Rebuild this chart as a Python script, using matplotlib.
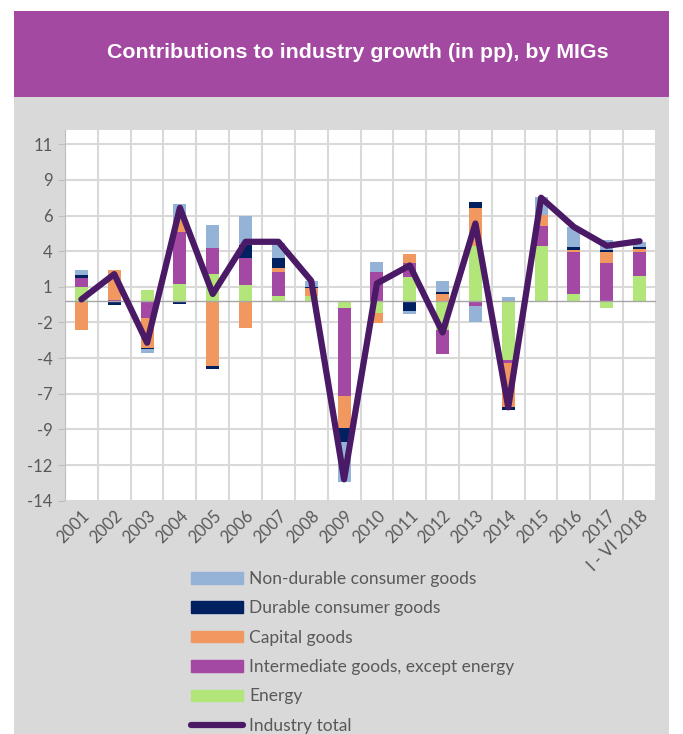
import numpy as np
from matplotlib import pyplot as plt
from matplotlib.patches import Rectangle, Patch
from matplotlib.lines import Line2D

# Contributions to industry growth (pp)
years = ['2001', '2002', '2003', '2004', '2005', '2006', '2007', '2008', '2009',
         '2010', '2011', '2012', '2013', '2014', '2015', '2016', '2017', 'I - VI 2018']
energy = [0.96, -0.08, 0.77, 1.17, 1.89, 1.10, 0.37, 0.37, -0.47,
          -0.82, 1.71, -2.03, 3.88, -4.14, 3.88, 0.51, -0.47, 1.75]
intermediate = [0.68, 0.05, -1.21, 3.69, 1.85, 1.94, 1.68, 0.0, -6.19,
                2.03, 0.98, -1.66, -0.33, -0.19, 1.38, 2.90, 2.69, 1.71]
capital = [-2.03, 2.10, -2.10, 0.82, -4.53, -1.87, 0.28, 0.56, -2.27,
           -0.70, 0.61, 0.49, 2.62, -3.08, 0.77, 0.19, 0.72, 0.21]
durable = [0.16, -0.17, -0.07, -0.20, -0.23, 0.89, 0.70, 0.05, -0.98,
           0.0, -0.68, 0.12, 0.42, -0.23, 0.0, 0.16, 0.16, 0.12]
nondurable = [0.35, -0.05, -0.28, 1.10, 1.59, 2.06, 1.05, 0.45, -2.76,
              0.68, -0.23, 0.79, -1.12, 0.26, 1.29, 1.45, 0.70, 0.33]
total = [0.12, 1.89, -2.92, 6.54, 0.50, 4.16, 4.16, 1.42, -12.5,
         1.24, 2.50, -2.20, 5.44, -7.45, 7.25, 5.20, 3.88, 4.20]

yticks = [-14, -11.5, -9, -6.5, -4, -1.5, 1, 3.5, 6, 8.5, 11]
ytick_labels = ['-14', '-12', '-9', '-7', '-4', '-2', '1', '4', '6', '9', '11']

series = [energy, intermediate, capital, durable, nondurable]
labels = ['Energy', 'Intermediate goods, except energy', 'Capital goods',
          'Durable consumer goods', 'Non-durable consumer goods']
colors = ['#b3e67a', '#a349a4', '#f09860', '#002060', '#95b3d7']
line_color = '#4a1a66'
txt_color = '#595959'

fig = plt.figure(figsize=(6.83, 7.34), dpi=100)
W, H = 683., 734.

# background panels
fig.patches.append(Rectangle((14/W, 0), (669-14)/W, 1-97/H, transform=fig.transFigure,
                             facecolor='#d9d9d9', edgecolor='none', zorder=-2))
fig.patches.append(Rectangle((14/W, 1-97/H), (669-14)/W, (97-11)/H, transform=fig.transFigure,
                             facecolor='#a349a2', edgecolor='none', zorder=-2))
fig.text(358/W, 1-53/H, 'Contributions to industry growth (in pp), by MIGs',
         ha='center', va='center', color='white', fontsize=15.4, fontweight='bold',
         family='Liberation Sans')

ax = fig.add_axes([65/W, 1-500.7/H, 591/W, 370.7/H])
ax.set_facecolor('white')

x = np.arange(len(years))
pos_bottom = np.zeros(len(years))
neg_bottom = np.zeros(len(years))
for vals, lab, col in zip(series, labels, colors):
    v = np.array(vals)
    bottom = np.where(v >= 0, pos_bottom, neg_bottom)
    ax.bar(x, v, 0.4, bottom=bottom, color=col, label=lab, zorder=3)
    pos_bottom += np.where(v >= 0, v, 0)
    neg_bottom += np.where(v < 0, v, 0)

ax.plot(x, total, color=line_color, lw=4.5, solid_joinstyle='round',
        solid_capstyle='round', zorder=5, label='Industry total')
ax.axhline(0, color='#a6a6a6', lw=1, zorder=4)

ax.set_xlim(-0.5, len(years) - 0.5)
ax.set_ylim(-14, 12)
ax.set_yticks(yticks)
ax.set_yticklabels(ytick_labels)
ax.set_xticks(x)
ax.set_xticklabels(years, rotation=45, ha='right', va='top', rotation_mode='anchor')
ax.set_xticks(np.arange(len(years) + 1) - 0.5, minor=True)
ax.grid(True, which='minor', axis='x', color='#d9d9d9', lw=1.5, zorder=0)
ax.grid(True, which='major', axis='y', color='#d9d9d9', lw=1.5, zorder=0)
ax.tick_params(axis='x', which='both', length=0, pad=5)
ax.tick_params(axis='y', length=5, color='#bfbfbf', pad=4)
for lab in ax.get_xticklabels() + ax.get_yticklabels():
    lab.set_color(txt_color)
    lab.set_fontsize(12)
    lab.set_family('Lato')
for s in ['top', 'right']:
    ax.spines[s].set_visible(False)
ax.spines['left'].set_color('#bfbfbf')
ax.spines['bottom'].set_color('#d9d9d9')

handles = [Patch(color=colors[i]) for i in [4, 3, 2, 1, 0]]
handles.append(Line2D([], [], color=line_color, lw=4.5, solid_capstyle='round'))
leg_labels = [labels[i] for i in [4, 3, 2, 1, 0]] + ['Industry total']
leg = fig.legend(handles, leg_labels, loc='upper left', bbox_to_anchor=(184/W, 1-564/H),
                 frameon=False, handlelength=3.0, handleheight=0.65, labelspacing=0.77,
                 handletextpad=0.35, borderaxespad=0,
                 prop={'family': 'Lato', 'size': 12.5})
for t in leg.get_texts():
    t.set_color(txt_color)

fig.savefig('out.png', dpi=100)
